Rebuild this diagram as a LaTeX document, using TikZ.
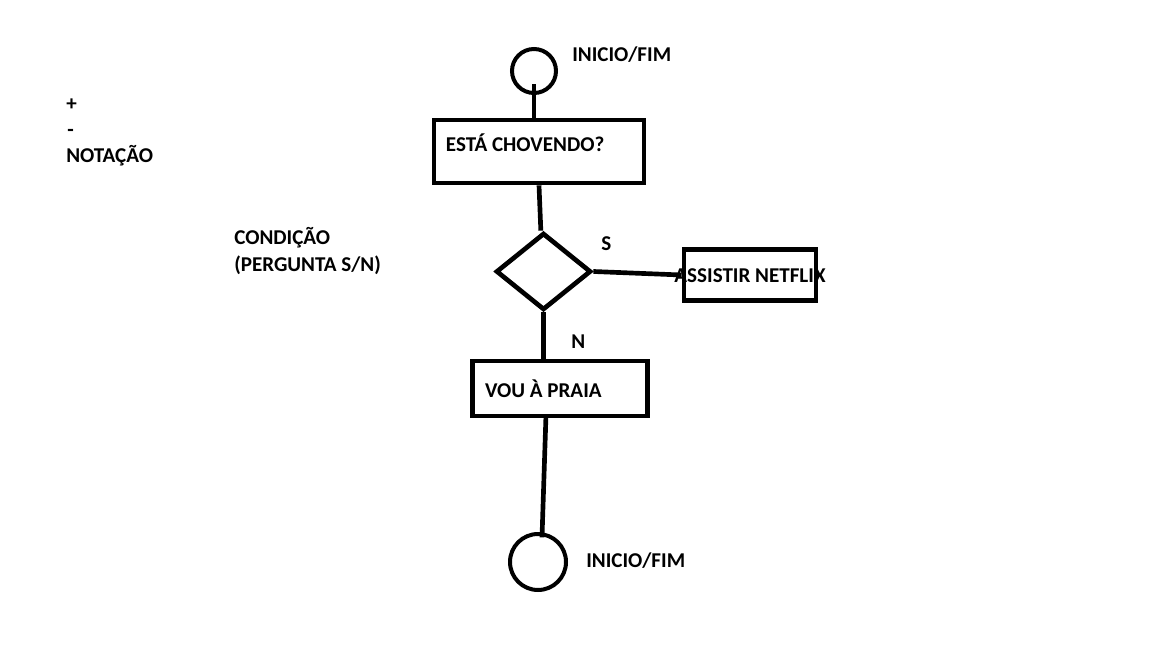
\documentclass[tikz,border=0pt]{standalone}
\usepackage{fontspec}
\setmainfont{Carlito}
\usetikzlibrary{shapes.geometric}
\begin{document}
\begin{tikzpicture}[x=0.75pt, y=-0.75pt,
        every node/.style={font=\fontsize{15.8}{19}\selectfont\bfseries},
        terminal/.style={draw, circle, line width=3pt, inner sep=0pt},
        caixa/.style={draw, rectangle, line width=3.5pt, inner sep=0pt},
        decisao/.style={draw, diamond, line width=3.5pt, inner sep=0pt,
            minimum width=71.25pt, minimum height=57.75pt},
        texto/.style={anchor=base west, inner sep=0pt},
        dentro/.style={anchor=base west, inner sep=0pt},
        fluxo/.style={line width=3.5pt}]
    \fill[white] (0,0) rectangle (1152,648);
    \useasboundingbox (0,0) rectangle (1152,648);
    % simbolos do fluxograma
    \node[terminal, minimum size=33pt] (ini) at (534,71) {};
    \node[caixa, minimum width=157.5pt, minimum height=47.25pt,
        label={[dentro, xshift=10.5pt]west:ESTÁ CHOVENDO?}] (chove) at (539,151.5) {};
    \node[decisao] (cond) at (543.5,271.5) {};
    \node[caixa, minimum width=99pt, minimum height=38.6pt,
        label={[inner sep=0pt, yshift=-0.8pt]center:ASSISTIR NETFLIX}] (netflix) at (750,275) {};
    \node[caixa, minimum width=131.25pt, minimum height=41.25pt,
        label={[dentro, xshift=11pt, yshift=-7pt]west:VOU À PRAIA}] (praia) at (560,388.5) {};
    \node[terminal, minimum size=42pt] (fim) at (538,562) {};
    % textos soltos
    \node[texto] (rotini) at (572,62) {INICIO/FIM};
    \node[texto] (rotfim) at (586,567) {INICIO/FIM};
    \node[texto] (sim) at (601,251) {S};
    \node[texto] (nao) at (571,349) {N};
    \node[texto] (mais) at (66,111) {+};
    \node[texto] (menos) at (67,137) {-};
    \node[texto] (notacao) at (66,163) {NOTAÇÃO};
    \node[texto] (condicao) at (234,245) {CONDIÇÃO};
    \node[texto] (pergunta) at (234,271.5) {(PERGUNTA S/N)};
    % ligacoes
    \draw[fluxo] ([yshift=8pt]ini.south) -- (ini.south |- chove.north);
    \draw[fluxo] (chove.south) -- ([xshift=-2pt]cond.north);
    \draw[fluxo] (cond.east) -- (netflix.west);
    \draw[fluxo] (cond.south) -- (cond.south |- praia.north);
    \draw[fluxo] ([xshift=-10.5pt, yshift=3pt]praia.south) -- ([xshift=3pt, yshift=-4pt]fim.north);
\end{tikzpicture}
\end{document}
